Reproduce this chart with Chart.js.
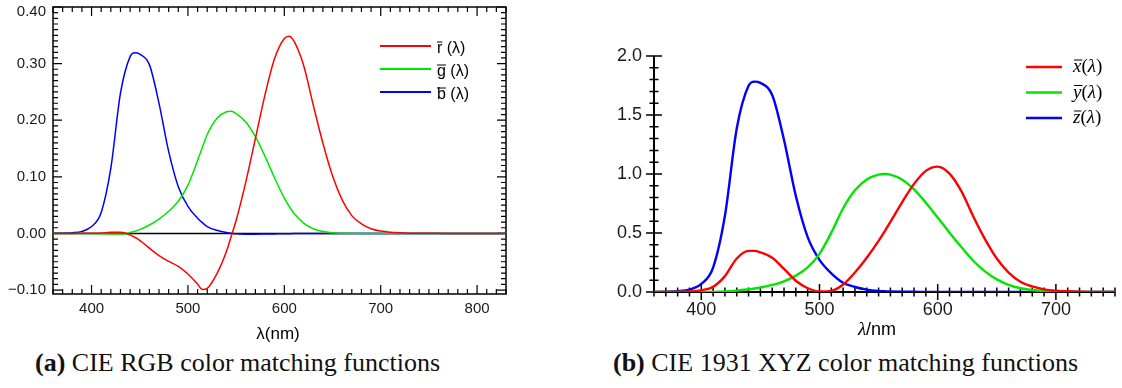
<!DOCTYPE html>
<html>
<head>
<meta charset="utf-8">
<script src="https://cdn.jsdelivr.net/npm/chart.js@4.4.1/dist/chart.umd.min.js"></script>
<style>
  html, body { margin: 0; padding: 0; background: #fff; }
  body { width: 1122px; height: 388px; position: relative; overflow: hidden; }
  canvas { position: absolute; }
  #rgb { left: 0; top: -10px; }
  #xyz { left: 560px; top: 0; }
  .cap { position: absolute; top: 350px; font: 26px/26px "Liberation Serif", serif; color: #111; white-space: nowrap; }
</style>
</head>
<body>
<canvas id="rgb" width="560" height="352"></canvas>
<canvas id="xyz" width="562" height="340"></canvas>
<div class="cap" style="left:35px"><b>(a)</b> CIE RGB color matching functions</div>
<div class="cap" style="left:613px"><b>(b)</b> CIE 1931 XYZ color matching functions</div>
<script>
// (a) CIE RGB
var rgbWl = [360,370,380,390,400,410,420,430,440,445,450,460,470,480,490,500,510,515,520,530,540,545,550,560,570,580,590,600,605,610,620,630,640,650,660,670,680,690,700,710,720,730,740,750,760,770,780,800,830];
var rgbR = [0,0,0,0.0001,0.0003,0.0008,0.0021,0.0022,-0.0026,-0.0070,-0.0121,-0.0261,-0.0393,-0.0494,-0.0581,-0.0717,-0.0895,-0.0990,-0.0970,-0.0715,-0.0315,-0.0045,0.0228,0.0906,0.1677,0.2453,0.3093,0.3443,0.3485,0.3397,0.2971,0.2268,0.1597,0.1017,0.0593,0.0315,0.0169,0.0082,0.0041,0.0021,0.0011,0.0005,0.0003,0.0001,0.0001,0,0,0,0];
var rgbG = [0,0,0,0,-0.0001,-0.0004,-0.0011,-0.0012,0.0015,0.0038,0.0068,0.0149,0.0254,0.0391,0.0569,0.0854,0.1286,0.1520,0.1747,0.2032,0.2150,0.2160,0.2118,0.1970,0.1709,0.1361,0.0975,0.0625,0.0480,0.0356,0.0183,0.0083,0.0033,0.0012,0.0004,0.0001,0,0,0,0,0,0,0,0,0,0,0,0,0];
var rgbB = [0.0002,0.0005,0.0012,0.0036,0.0121,0.0371,0.1154,0.2477,0.3123,0.3190,0.3167,0.2982,0.2299,0.1449,0.0826,0.0478,0.0270,0.0190,0.0122,0.0055,0.0015,0.0005,-0.0006,-0.0013,-0.0014,-0.0011,-0.0008,-0.0005,-0.0004,-0.0003,-0.0002,-0.0001,0,0,0,0,0,0,0,0,0,0,0,0,0,0,0,0,0];
var rgbXTicks = [400,500,600,700,800];
var rgbYTicks = [-0.1,0,0.1,0.2,0.3,0.4];

// (b) CIE 1931 XYZ
var xyzWl = [360,370,380,390,400,410,420,430,440,445,450,460,470,480,490,500,510,520,530,540,550,555,560,570,580,590,600,610,620,630,640,650,660,670,680,690,700,710,720,730,740,750];
var xyzX = [0.0001,0.0004,0.0014,0.0042,0.0143,0.0435,0.1344,0.2839,0.3483,0.3481,0.3362,0.2908,0.1954,0.0956,0.0320,0.0049,0.0093,0.0633,0.1655,0.2904,0.4334,0.5121,0.5945,0.7621,0.9163,1.0263,1.0622,1.0026,0.8544,0.6424,0.4479,0.2835,0.1649,0.0874,0.0468,0.0227,0.0114,0.0058,0.0029,0.0014,0.0007,0.0003];
var xyzY = [0,0,0,0.0001,0.0004,0.0012,0.0040,0.0116,0.0230,0.0298,0.0380,0.0600,0.0910,0.1390,0.2080,0.3230,0.5030,0.7100,0.8620,0.9540,0.9950,1.0000,0.9950,0.9520,0.8700,0.7570,0.6310,0.5030,0.3810,0.2650,0.1750,0.1070,0.0610,0.0320,0.0170,0.0082,0.0041,0.0021,0.0010,0.0005,0.0002,0.0001];
var xyzZ = [0.0006,0.0019,0.0065,0.0201,0.0679,0.2074,0.6456,1.3856,1.7471,1.7826,1.7721,1.6692,1.2876,0.8130,0.4652,0.2720,0.1582,0.0783,0.0422,0.0203,0.0088,0.0058,0.0039,0.0021,0.0017,0.0011,0.0008,0.0003,0.0002,0,0,0,0,0,0,0,0,0,0,0,0,0];
var xyzXTicks = [400,500,600,700];
var xyzYTicks = [0,0.5,1,1.5,2];

Chart.defaults.font.family = '"Liberation Sans", Arial, sans-serif';
Chart.defaults.color = '#1a1a1a';

function curve(label, color, xs, ys, width) {
  return {
    label: label, borderColor: color, borderWidth: width, pointRadius: 0, fill: false,
    cubicInterpolationMode: 'monotone',
    data: xs.map(function (w, i) { return {x: w, y: ys[i]}; })
  };
}

function eachMark(scale, minor, major, fn) {
  var per = Math.round(major / minor);
  var i0 = Math.ceil(scale.min / minor - 1e-6), i1 = Math.floor(scale.max / minor + 1e-6);
  for (var i = i0; i <= i1; i++) fn(scale.getPixelForValue(i * minor), i % per === 0);
}

// frame, minor/major tick marks, axis title and legend
var axisDeco = {
  id: 'axisDeco',
  beforeDatasetsDraw: function (chart, args, o) {
    var ctx = chart.ctx, a = chart.chartArea, xs = chart.scales.x, ys = chart.scales.y;
    ctx.save();
    ctx.strokeStyle = '#000';
    ctx.lineWidth = o.lineWidth;
    ctx.beginPath();
    if (o.box) {
      ctx.rect(a.left, a.top, a.right - a.left, a.bottom - a.top);
      var y0 = ys.getPixelForValue(0);
      ctx.moveTo(a.left, y0);
      ctx.lineTo(a.right, y0);
    } else {
      ctx.moveTo(a.left, a.top);
      ctx.lineTo(a.left, a.bottom);
      ctx.lineTo(a.right, a.bottom);
    }
    ctx.stroke();
    ctx.lineWidth = o.tickWidth;
    ctx.beginPath();
    eachMark(xs, o.xMinor, o.xMajor, function (p, big) {
      var len = big ? o.major : o.minor;
      if (o.box) {
        ctx.moveTo(p, a.bottom); ctx.lineTo(p, a.bottom - len);
        ctx.moveTo(p, a.top); ctx.lineTo(p, a.top + len);
      } else {
        ctx.moveTo(p, a.bottom - len); ctx.lineTo(p, a.bottom + len);
      }
    });
    eachMark(ys, o.yMinor, o.yMajor, function (p, big) {
      var len = big ? o.major : o.minor;
      if (o.box) {
        ctx.moveTo(a.left, p); ctx.lineTo(a.left + len, p);
        ctx.moveTo(a.right, p); ctx.lineTo(a.right - len, p);
      } else {
        ctx.moveTo(a.left - len, p); ctx.lineTo(a.left + len, p);
      }
    });
    ctx.stroke();
    ctx.restore();
  },
  afterDraw: function (chart, args, o) {
    var ctx = chart.ctx;
    ctx.save();
    ctx.fillStyle = '#000';
    ctx.textBaseline = 'alphabetic';
    var w = 0;
    o.title.forEach(function (p) { ctx.font = p.font; w += ctx.measureText(p.text).width; });
    var tx = o.titleX - w / 2;
    o.title.forEach(function (p) {
      ctx.font = p.font;
      ctx.fillText(p.text, tx, o.titleY);
      tx += ctx.measureText(p.text).width;
    });
    var L = o.legend;
    chart.data.datasets.forEach(function (ds, i) {
      var y = L.y + i * L.dy;
      ctx.strokeStyle = ds.borderColor;
      ctx.lineWidth = L.lineWidth;
      ctx.beginPath();
      ctx.moveTo(L.x, y);
      ctx.lineTo(L.x + L.len, y);
      ctx.stroke();
      var x = L.x + L.len + L.gap, base = y + L.shift;
      var letter = ds.label.charAt(0), rest = ds.label.slice(2);
      ctx.font = L.letterFont;
      var lw = ctx.measureText(letter).width;
      ctx.fillText(letter, x, base);
      ctx.strokeStyle = '#000';
      ctx.lineWidth = 1;
      ctx.beginPath();
      ctx.moveTo(x + L.barShift, base - L.barRise);
      ctx.lineTo(x + L.barShift + lw, base - L.barRise);
      ctx.stroke();
      x += lw;
      rest.split('').forEach(function (c) {
        ctx.font = c === 'λ' ? L.greekFont : L.restFont;
        ctx.fillText(c, x, base);
        x += ctx.measureText(c).width;
      });
    });
    ctx.restore();
  }
};

new Chart('rgb', {
  type: 'line',
  data: {
    datasets: [
      curve('r\u0304 (λ)', '#ff0000', rgbWl, rgbR, 1.5),
      curve('g\u0304 (λ)', '#00e600', rgbWl, rgbG, 1.5),
      curve('b\u0304 (λ)', '#0000ff', rgbWl, rgbB, 1.5)
    ]
  },
  options: {
    responsive: false,
    animation: false,
    devicePixelRatio: 1,
    layout: {padding: {top: 15, right: 54, left: 0, bottom: 0}},
    plugins: {
      legend: {display: false},
      tooltip: {enabled: false},
      axisDeco: {
        box: true, lineWidth: 1.5, tickWidth: 1.2, major: 9, minor: 5,
        xMinor: 10, xMajor: 100, yMinor: 0.01, yMajor: 0.1,
        title: [{text: 'λ(nm)', font: '17px "Liberation Sans"'}],
        titleX: 278, titleY: 349,
        legend: {
          x: 380, y: 56, dy: 23, len: 51, gap: 6, shift: 7, lineWidth: 2,
          letterFont: '16px "Liberation Sans"', restFont: '16px "Liberation Sans"',
          greekFont: '16px "Liberation Sans"', barRise: 11, barShift: 0
        }
      }
    },
    scales: {
      x: {
        type: 'linear', min: 360, max: 830,
        afterBuildTicks: function (s) { s.ticks = rgbXTicks.map(function (v) { return {value: v}; }); },
        afterFit: function (s) { s.height = 48; },
        grid: {display: false, drawTicks: false}, border: {display: false},
        ticks: {padding: 6, maxRotation: 0, font: {size: 15}, callback: function (v) { return String(v); }}
      },
      y: {
        min: -0.107, max: 0.4,
        afterBuildTicks: function (s) { s.ticks = rgbYTicks.map(function (v) { return {value: v}; }); },
        afterFit: function (s) { s.width = 53; },
        grid: {display: false, drawTicks: false}, border: {display: false},
        ticks: {
          padding: 7,
          // the top label sits a little below its tick so it stays inside the page
          font: function (c) { return c.tick && c.tick.value >= 0.4 ? {size: 15, lineHeight: '10px'} : {size: 15}; },
          callback: function (v) {
            var s = (v < 0 ? '\u2212' : '') + Math.abs(v).toFixed(2);
            return v >= 0.4 ? ['', s] : s;
          }
        }
      }
    }
  },
  plugins: [axisDeco]
});

new Chart('xyz', {
  type: 'line',
  data: {
    datasets: [
      curve('x\u0304(λ)', '#ff0000', xyzWl, xyzX, 2.4),
      curve('y\u0304(λ)', '#00e600', xyzWl, xyzY, 2.4),
      curve('z\u0304(λ)', '#0000ff', xyzWl, xyzZ, 2.4)
    ]
  },
  options: {
    responsive: false,
    animation: false,
    devicePixelRatio: 1,
    layout: {padding: {top: 56, right: 7, left: 0, bottom: 0}},
    plugins: {
      legend: {display: false},
      tooltip: {enabled: false},
      axisDeco: {
        box: false, lineWidth: 2, tickWidth: 1.5, major: 8, minor: 4.5,
        xMinor: 10, xMajor: 100, yMinor: 0.1, yMajor: 0.5,
        title: [{text: 'λ', font: 'italic 19px "Liberation Serif"'}, {text: '/nm', font: '18px "Liberation Sans"'}],
        titleX: 317, titleY: 335,
        legend: {
          x: 466, y: 67, dy: 25.5, len: 36, gap: 11, shift: 5, lineWidth: 2.5,
          letterFont: 'italic 19px "Liberation Serif"', restFont: '19px "Liberation Serif"',
          greekFont: 'italic 19px "Liberation Serif"', barRise: 12, barShift: 1
        }
      }
    },
    scales: {
      x: {
        type: 'linear', min: 360, max: 750,
        afterBuildTicks: function (s) { s.ticks = xyzXTicks.map(function (v) { return {value: v}; }); },
        afterFit: function (s) { s.height = 48; },
        grid: {display: false, drawTicks: false}, border: {display: false},
        ticks: {padding: 7, maxRotation: 0, font: {size: 18}, callback: function (v) { return String(v); }}
      },
      y: {
        min: 0, max: 2,
        afterBuildTicks: function (s) { s.ticks = xyzYTicks.map(function (v) { return {value: v}; }); },
        afterFit: function (s) { s.width = 94; },
        grid: {display: false, drawTicks: false}, border: {display: false},
        ticks: {padding: 12, font: {size: 18}, callback: function (v) { return v.toFixed(1); }}
      }
    }
  },
  plugins: [axisDeco]
});
</script>
</body>
</html>
